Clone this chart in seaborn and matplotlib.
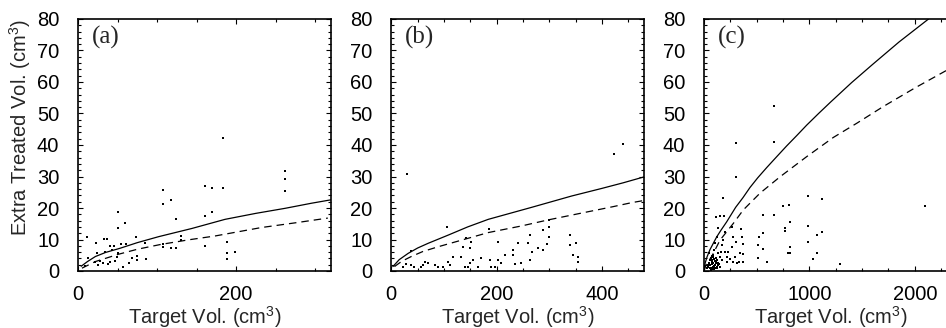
import seaborn as sns
import matplotlib
matplotlib.use("Agg")
import matplotlib.pyplot as plt
from matplotlib.ticker import MultipleLocator

# ---- data ----
# panel (a)
a_pts_x = [183, 262, 262, 262, 160, 170, 183, 107, 107, 118, 50, 51, 59.5, 124, 161, 170,
           73, 11.4, 22.8, 33, 37, 40, 45.6, 55, 61, 85, 107, 107, 118, 124, 130, 130, 161,
           188, 188, 199, 188, 86, 74, 74, 68, 64, 57, 47, 49, 51, 40.5, 38, 32, 28, 25.7,
           21.5, 13, 9, 34, 42.6, 23.6]
a_pts_y = [42.1, 31.9, 29.1, 25.4, 27.1, 26.2, 26.4, 25.6, 21.4, 22.4, 18.6, 13.8, 15.2, 16.5,
           17.6, 18.6, 10.9, 10.7, 8.8, 10.1, 10.1, 7.9, 7.9, 8.6, 8.6, 8.8, 8.6, 7.5, 7.3, 7.3,
           11.1, 9.8, 8.0, 9.3, 5.8, 6.1, 3.7, 3.7, 4.8, 3.5, 4.0, 2.6, 1.4, 3.2, 4.6, 5.6, 3.0,
           2.1, 2.6, 3.3, 1.9, 3.0, 4.0, 1.6, 6.1, 6.7, 5.8]
a_solid_x = [4, 12, 22, 35, 53, 75, 102, 144, 186, 225, 262, 295, 320]
a_solid_y = [1.5, 3.0, 4.6, 5.9, 7.2, 9.0, 10.9, 13.5, 16.4, 18.3, 19.9, 21.5, 22.6]
a_dash_x = [5, 22, 51, 75, 104, 140, 173, 232, 275, 316]
a_dash_y = [0.9, 3.0, 5.3, 6.9, 8.4, 9.9, 11.1, 13.8, 15.3, 16.8]

# panel (b)
b_pts_x = [30.4, 423, 440, 106, 186, 299, 299, 299, 296, 288, 339, 339, 351, 345, 354, 354,
           263, 259, 278, 288, 266, 263, 240, 231, 230, 234, 202.6, 215, 202.6, 187, 190, 196,
           171, 155, 149, 149, 142, 152, 136, 132, 139, 145.6, 117, 107.6, 111, 88.7, 82, 70,
           63, 60, 57, 38, 38, 22, 28.5, 44, 98, 164.6, 209, 247]
b_pts_y = [30.7, 37.1, 40.3, 14.1, 13.4, 16.2, 13.9, 10.7, 8.6, 13.0, 11.4, 8.3, 9.0, 5.1, 4.6,
           3.0, 11.4, 8.8, 7.2, 6.7, 6.1, 3.5, 8.8, 6.7, 5.1, 2.1, 9.3, 5.1, 3.5, 3.5, 1.4, 1.4,
           4.0, 3.5, 2.4, 7.2, 10.4, 9.3, 7.7, 4.6, 1.4, 1.4, 4.6, 3.0, 1.9, 1.4, 1.9, 2.4, 3.0,
           1.9, 1.4, 1.9, 6.5, 1.4, 2.2, 1.4, 1.4, 1.4, 2.4, 2.4]
b_solid_x = [3, 15, 32, 50, 70, 108, 145, 184, 225, 266, 342, 399, 440, 480]
b_solid_y = [1.4, 3.6, 5.6, 7.3, 8.8, 11.4, 14.0, 16.4, 18.3, 20.2, 23.8, 26.2, 28.0, 29.9]
b_dash_x = [6, 20, 38, 60, 89, 146, 184, 247, 297, 373, 420, 456, 480]
b_dash_y = [1.4, 3.1, 4.6, 6.2, 7.7, 10.4, 12.2, 14.3, 16.2, 18.8, 20.4, 21.7, 22.4]

# panel (c)
c_pts_x = [664, 664, 300, 300, 183, 111, 152, 190, 990, 1122, 752, 810, 556, 664, 816, 768,
           768, 990, 1122, 1069, 990, 816, 800, 816, 1075, 1037, 1290, 556, 525, 515, 563, 594,
           515, 348, 357, 367, 341, 373, 335, 367, 278, 310, 262, 278, 303, 262, 231, 215, 247,
           199, 183, 168, 158, 199, 152, 136, 120, 104, 95, 88.5, 136, 73, 88.5, 104, 120, 82,
           57, 136, 114, 95, 76, 126, 104, 152, 41, 25, 66, 88, 51, 57, 168, 215, 294, 2100,
           60, 70, 80, 92, 100, 110, 118, 130, 62, 78, 98, 112, 125, 140, 85, 105, 45, 35]
c_pts_y = [52.4, 41.1, 40.5, 29.9, 23.3, 17.2, 17.6, 17.6, 23.9, 22.8, 20.7, 20.8, 17.8, 17.8,
           15.7, 13.5, 12.7, 14.4, 12.3, 11.4, 9.1, 7.7, 5.8, 5.8, 5.8, 3.7, 2.1, 12.2, 10.7,
           8.3, 6.9, 3.0, 4.0, 13.2, 10.9, 8.6, 5.6, 5.4, 3.0, 3.0, 3.0, 2.4, 14.1, 10.9, 9.3,
           7.7, 6.1, 4.6, 3.7, 12.5, 9.8, 8.3, 6.1, 6.1, 4.6, 13.5, 10.9, 8.8, 6.7, 4.6, 5.6,
           3.5, 2.4, 1.9, 1.4, 1.4, 0.8, 2.4, 3.0, 3.7, 2.2, 0.8, 0.8, 1.4, 1.9, 0.8, 0.3, 5.1,
           5.6, 3.5, 3.5, 3.0, 4.6, 20.5,
           2.0, 1.0, 2.8, 1.6, 3.2, 1.1, 2.6, 1.8, 4.2, 4.8, 0.6, 4.0, 3.4, 2.2, 0.5, 2.0, 2.6, 1.2]
c_solid_x = [0, 10, 30, 57, 90, 120, 160, 215, 300, 370, 436, 510, 594, 690, 784, 880, 974,
             1090, 1200, 1400, 1600, 1850, 2130]
c_solid_y = [0, 2.4, 4.6, 6.8, 8.9, 10.8, 12.9, 15.6, 20.2, 23.3, 26.5, 29.6, 32.8, 36.3,
             39.7, 43.0, 46.3, 50.1, 53.6, 59.8, 65.6, 72.7, 80.0]
c_dash_x = [0, 20, 73, 152, 278, 373, 531, 721, 974, 1227, 1449, 1700, 2000, 2296]
c_dash_y = [0, 2.0, 4.6, 9.8, 15.1, 19.4, 24.7, 29.9, 36.3, 42.4, 46.9, 52.2, 58.1, 63.6]

panels = [
    ("(a)", a_pts_x, a_pts_y, a_solid_x, a_solid_y, a_dash_x, a_dash_y, 320, 200, 50),
    ("(b)", b_pts_x, b_pts_y, b_solid_x, b_solid_y, b_dash_x, b_dash_y, 480, 200, 50),
    ("(c)", c_pts_x, c_pts_y, c_solid_x, c_solid_y, c_dash_x, c_dash_y, 2400, 1000, 250),
]

sns.set_style("ticks")
plt.rcParams["font.family"] = ["Liberation Sans", "DejaVu Sans"]
plt.rcParams["mathtext.fontset"] = "custom"
plt.rcParams["mathtext.rm"] = "Liberation Sans"
plt.rcParams["mathtext.it"] = "Liberation Sans"

W, H = 946, 328
fig = plt.figure(figsize=(W / 100, H / 100), dpi=100)
lefts = [78, 391.3, 704]
aw, ab, ah = 253, 57, 252

for i, (lab, px, py, sx, sy, dx, dy, xmax, xmaj, xmin) in enumerate(panels):
    ax = fig.add_axes([lefts[i] / W, ab / H, aw / W, ah / H])
    sns.scatterplot(x=px, y=py, ax=ax, color="black", marker="s", s=0.7,
                    linewidth=0)
    sns.lineplot(x=sx, y=sy, ax=ax, color="black", lw=0.9, sort=False)
    sns.lineplot(x=dx, y=dy, ax=ax, color="black", lw=0.9, sort=False)
    ax.lines[-1].set_dashes([6, 4])
    ax.set_xlim(0, xmax)
    ax.set_ylim(0, 80)
    ax.xaxis.set_major_locator(MultipleLocator(xmaj))
    ax.xaxis.set_minor_locator(MultipleLocator(xmin))
    ax.yaxis.set_major_locator(MultipleLocator(10))
    ax.yaxis.set_minor_locator(MultipleLocator(2))
    ax.tick_params(which="both", direction="in", top=True, right=True,
                   width=0.8, colors="black", labelsize=14.5)
    ax.tick_params(which="major", length=3.8)
    ax.tick_params(which="minor", length=2.2)
    ax.tick_params(axis="x", which="major", pad=10)
    ax.tick_params(axis="y", which="major", pad=13.5)
    for sp in ax.spines.values():
        sp.set_linewidth(1.2)
        sp.set_color("black")
    ax.set_xlabel(r"Target Vol. (cm$^3$)", fontsize=14.5, labelpad=0)
    if i == 0:
        ax.set_ylabel(r"Extra Treated Vol. (cm$^3$)", fontsize=14.5)
        ax.yaxis.set_label_coords(-0.178, 0.571)
    else:
        ax.set_ylabel("")
    ax.text(0.055, 0.925, lab, transform=ax.transAxes, va="center", ha="left",
            fontsize=18, family=["Liberation Serif", "DejaVu Serif"])

fig.savefig("out.png", dpi=100)
